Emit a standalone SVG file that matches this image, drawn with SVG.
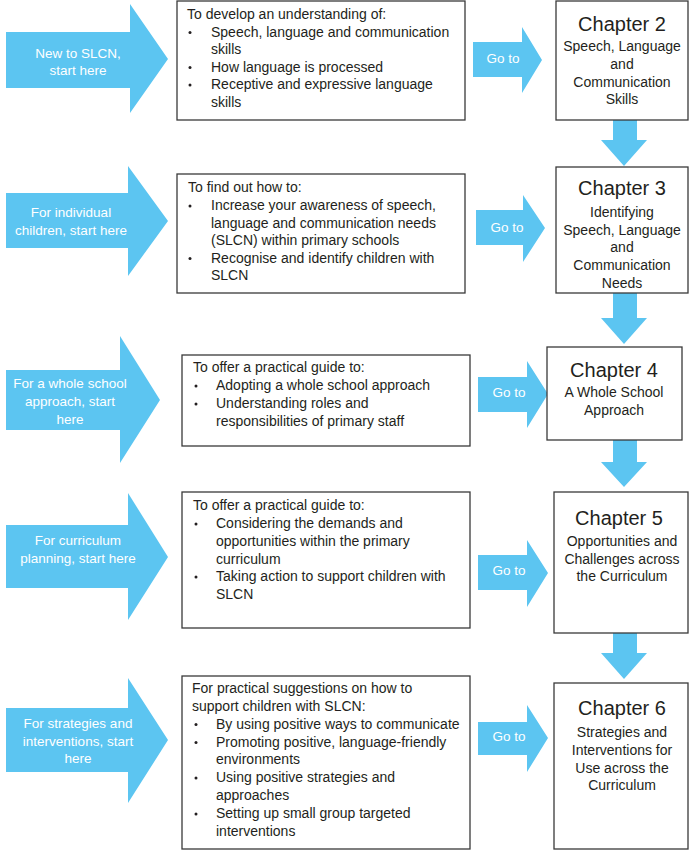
<svg xmlns="http://www.w3.org/2000/svg" width="690" height="850" viewBox="0 0 690 850">
<style>
.arr{fill:#5cc5f1;stroke:none}
.box{fill:#fff;stroke:#3a3a3a;stroke-width:1.3}
.t{font-family:"Liberation Sans",Arial,sans-serif;font-size:14px;fill:#231f20}
.b{fill:#231f20}
.w{font-family:"Liberation Sans",Arial,sans-serif;font-size:13.5px;fill:#fff;text-anchor:middle}
.c{text-anchor:middle}
.h{font-family:"Liberation Sans",Arial,sans-serif;font-size:20px;fill:#231f20;text-anchor:middle}
</style>
<rect width="690" height="850" fill="#fff"/>

<g id="connectors">
  <g id="goto1"><polygon class="arr" points="473,42 522,42 522,27 542,60 522,93 522,77 473,77"/><text class="w" x="503" y="63">Go to</text></g>
  <g id="goto2"><polygon class="arr" points="476,210 523,210 523,195 545,228 523,262 523,245 476,245"/><text class="w" x="507" y="232">Go to</text></g>
  <g id="goto3"><polygon class="arr" points="478,377 527,377 527,361 548,394 527,428 527,412 478,412"/><text class="w" x="509" y="397">Go to</text></g>
  <g id="goto4"><polygon class="arr" points="478,555 527,555 527,540 548,573 527,607 527,590 478,590"/><text class="w" x="509" y="575">Go to</text></g>
  <g id="goto5"><polygon class="arr" points="478,722 527,722 527,705 548,738 527,772 527,755 478,755"/><text class="w" x="509" y="741">Go to</text></g>
  <polygon id="down1" class="arr" points="613,120 637,120 637,140 647,140 624,166 601,140 613,140"/>
  <polygon id="down2" class="arr" points="613,293 637,293 637,318 647,318 624,344 601,318 613,318"/>
  <polygon id="down3" class="arr" points="613,440 637,440 637,462 647,462 624,487 601,462 613,462"/>
  <polygon id="down4" class="arr" points="613,633 637,633 637,653 647,653 624,679 601,653 613,653"/>
</g>

<g id="start1"><polygon class="arr" points="6,32 130,32 130,4 168,59 130,113 130,88 6,88"/>
  <text class="w" x="78" y="58">New to SLCN,</text><text class="w" x="78" y="75">start here</text></g>
<g id="start2"><polygon class="arr" points="6,193 128,193 128,166 168,221 128,276 128,248 6,248"/>
  <text class="w" x="71" y="217">For individual</text><text class="w" x="71" y="234.5">children, start here</text></g>
<g id="start3"><polygon class="arr" points="6,370 120,370 120,336 160,400 120,463 120,430 6,430"/>
  <text class="w" x="70" y="388">For a whole school</text><text class="w" x="70" y="406">approach, start</text><text class="w" x="70" y="424">here</text></g>
<g id="start4"><polygon class="arr" points="6,525 128,525 128,493 168,557 128,620 128,588 6,588"/>
  <text class="w" x="78" y="545">For curriculum</text><text class="w" x="78" y="563">planning, start here</text></g>
<g id="start5"><polygon class="arr" points="6,708 128,708 128,678 168,740 128,803 128,772 6,772"/>
  <text class="w" x="78" y="728">For strategies and</text><text class="w" x="78" y="746">interventions, start</text><text class="w" x="78" y="763">here</text></g>

<g id="desc1"><rect class="box" x="177" y="1" width="288" height="119"/>
  <text class="t" x="187" y="19">To develop an understanding of:</text>
  <circle class="b" cx="190" cy="32.5" r="1.5"/><text class="t" x="211" y="36.5">Speech, language and communication</text>
  <text class="t" x="211" y="54">skills</text>
  <circle class="b" cx="190" cy="67.5" r="1.5"/><text class="t" x="211" y="71.5">How language is processed</text>
  <circle class="b" cx="190" cy="85" r="1.5"/><text class="t" x="211" y="89">Receptive and expressive language</text>
  <text class="t" x="211" y="106.5">skills</text></g>
<g id="desc2"><rect class="box" x="177" y="174" width="288" height="119"/>
  <text class="t" x="188" y="192">To find out how to:</text>
  <circle class="b" cx="190" cy="206" r="1.5"/><text class="t" x="211" y="210">Increase your awareness of speech,</text>
  <text class="t" x="211" y="227.5">language and communication needs</text>
  <text class="t" x="211" y="245">(SLCN) within primary schools</text>
  <circle class="b" cx="190" cy="258.5" r="1.5"/><text class="t" x="211" y="262.5">Recognise and identify children with</text>
  <text class="t" x="211" y="280">SLCN</text></g>
<g id="desc3"><rect class="box" x="182" y="355" width="288" height="91"/>
  <text class="t" x="193" y="372">To offer a practical guide to:</text>
  <circle class="b" cx="196" cy="386" r="1.5"/><text class="t" x="216" y="390">Adopting a whole school approach</text>
  <circle class="b" cx="196" cy="404" r="1.5"/><text class="t" x="216" y="408">Understanding roles and</text>
  <text class="t" x="216" y="426">responsibilities of primary staff</text></g>
<g id="desc4"><rect class="box" x="182" y="492" width="288" height="136"/>
  <text class="t" x="193" y="510">To offer a practical guide to:</text>
  <circle class="b" cx="196" cy="524" r="1.5"/><text class="t" x="216" y="528">Considering the demands and</text>
  <text class="t" x="216" y="546">opportunities within the primary</text>
  <text class="t" x="216" y="563.5">curriculum</text>
  <circle class="b" cx="196" cy="577" r="1.5"/><text class="t" x="216" y="581">Taking action to support children with</text>
  <text class="t" x="216" y="599">SLCN</text></g>
<g id="desc5"><rect class="box" x="182" y="676" width="288" height="173"/>
  <text class="t" x="192" y="693">For practical suggestions on how to</text>
  <text class="t" x="192" y="711">support children with SLCN:</text>
  <circle class="b" cx="196" cy="724.5" r="1.5"/><text class="t" x="216" y="728.5">By using positive ways to communicate</text>
  <circle class="b" cx="196" cy="742.5" r="1.5"/><text class="t" x="216" y="746.5">Promoting positive, language-friendly</text>
  <text class="t" x="216" y="764">environments</text>
  <circle class="b" cx="196" cy="778" r="1.5"/><text class="t" x="216" y="782">Using positive strategies and</text>
  <text class="t" x="216" y="800">approaches</text>
  <circle class="b" cx="196" cy="814" r="1.5"/><text class="t" x="216" y="818">Setting up small group targeted</text>
  <text class="t" x="216" y="836">interventions</text></g>

<g id="ch2"><rect class="box" x="556" y="1" width="132" height="119"/>
  <text class="h" x="622" y="31">Chapter 2</text>
  <text class="t c" x="622" y="51">Speech, Language</text>
  <text class="t c" x="622" y="68.5">and</text>
  <text class="t c" x="622" y="86.5">Communication</text>
  <text class="t c" x="622" y="104">Skills</text></g>
<g id="ch3"><rect class="box" x="556" y="167" width="132" height="126"/>
  <text class="h" x="622" y="195">Chapter 3</text>
  <text class="t c" x="622" y="217">Identifying</text>
  <text class="t c" x="622" y="235">Speech, Language</text>
  <text class="t c" x="622" y="252">and</text>
  <text class="t c" x="622" y="270">Communication</text>
  <text class="t c" x="622" y="288">Needs</text></g>
<g id="ch4"><rect class="box" x="547" y="347" width="135" height="93"/>
  <text class="h" x="614" y="377">Chapter 4</text>
  <text class="t c" x="614" y="397">A Whole School</text>
  <text class="t c" x="614" y="415">Approach</text></g>
<g id="ch5"><rect class="box" x="554" y="492" width="134" height="141"/>
  <text class="h" x="619" y="525">Chapter 5</text>
  <text class="t c" x="622" y="546">Opportunities and</text>
  <text class="t c" x="622" y="564">Challenges across</text>
  <text class="t c" x="622" y="581">the Curriculum</text></g>
<g id="ch6"><rect class="box" x="554" y="683" width="134" height="166"/>
  <text class="h" x="622" y="715">Chapter 6</text>
  <text class="t c" x="622" y="737">Strategies and</text>
  <text class="t c" x="622" y="755">Interventions for</text>
  <text class="t c" x="622" y="773">Use across the</text>
  <text class="t c" x="622" y="790">Curriculum</text></g>
</svg>
